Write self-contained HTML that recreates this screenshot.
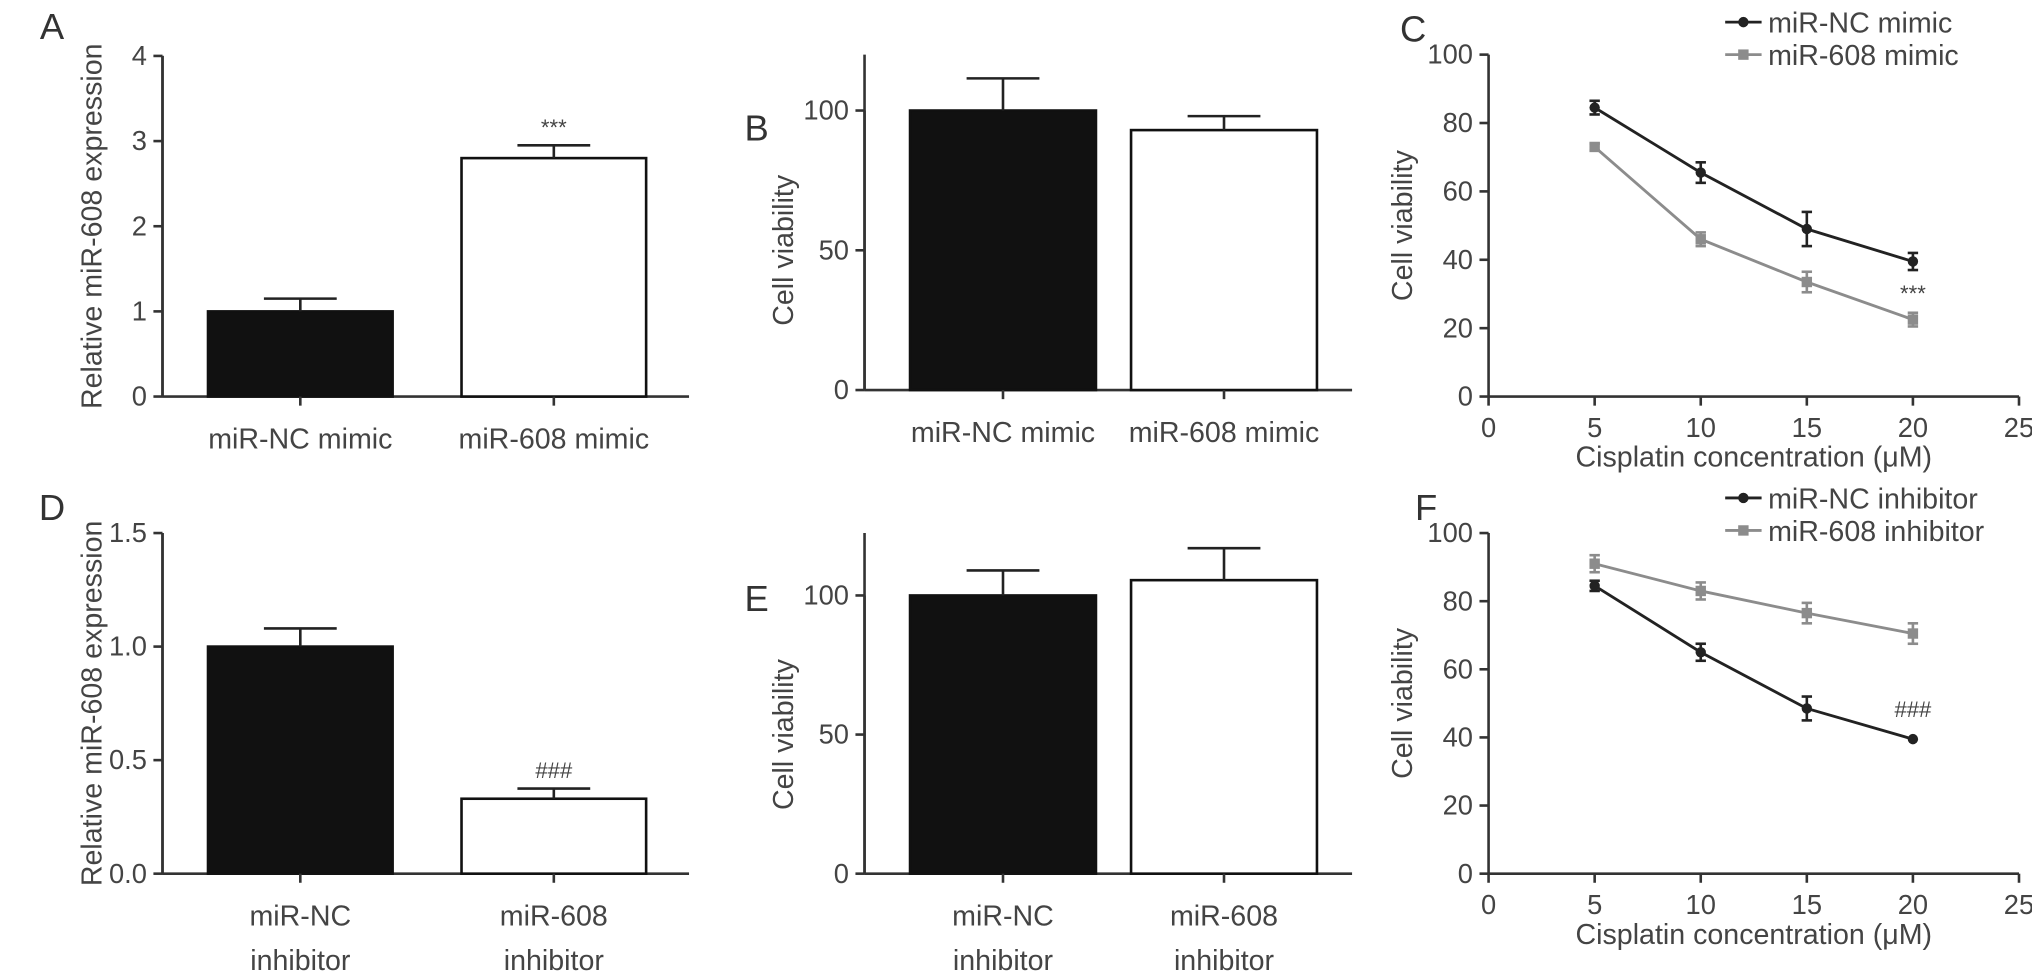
<!DOCTYPE html>
<html><head><meta charset="utf-8"><style>
html,body{margin:0;padding:0;background:#fff;}
svg{display:block;font-family:"Liberation Sans",sans-serif;}
</style></head><body>
<svg id="fig" width="2032" height="979" viewBox="0 0 1563 753" xmlns="http://www.w3.org/2000/svg"></svg>
<script>
// ---- data ----
const barCatsTop = ["miR-NC mimic","miR-608 mimic"];
const barCatsBot = [["miR-NC","inhibitor"],["miR-608","inhibitor"]];
const aVals = [1.0, 2.8], aErr = [0.15, 0.15];
const bVals = [100, 93], bErr = [11.5, 5];
const dVals = [1.0, 0.33], dErr = [0.08, 0.045];
const eVals = [100, 105.5], eErr = [9, 11.5];
const conc = [5, 10, 15, 20];
const cNC = [84.5, 65.5, 49, 39.5], cNCerr = [2, 3, 5, 2.5];
const c608 = [73, 46, 33.5, 22.5], c608err = [1, 2, 3, 2];
const fNC = [84.5, 65, 48.5, 39.5], fNCerr = [1.5, 2.5, 3.5, 0.5];
const f608 = [91, 83, 76.5, 70.5], f608err = [2.5, 2.5, 3, 3];
const ticksA = [0,1,2,3,4], ticksB = [0,50,100], ticksD = [0,0.5,1.0,1.5], ticksLine = [0,20,40,60,80,100], ticksX = [0,5,10,15,20,25];

const svg = document.getElementById('fig');
const NS = 'http://www.w3.org/2000/svg';
function el(tag, attrs, parent, text){
  const e = document.createElementNS(NS, tag);
  for (const k in attrs) e.setAttribute(k, attrs[k]);
  if (text !== undefined) e.textContent = text;
  (parent||svg).appendChild(e);
  return e;
}
const TXT = '#444', AX = '#333';
function label(x,y,t,size,anchor,rot){
  const e = el('text',{x:x,y:y,'font-size':size,fill:TXT,'text-anchor':anchor||'middle'},svg,t);
  if (rot) e.setAttribute('transform','rotate(-90 '+x+' '+y+')');
  return e;
}
function yAxis(x, y0, y1, vmin, vmax, ticks, fmt, title, titleX){
  const sy = v => y0 - (v - vmin) / (vmax - vmin) * (y0 - y1);
  const a = el('line',{x1:x,y1:y0,x2:x,y2:sy(ticks[ticks.length-1]),stroke:AX,'stroke-width':2});
  
  
  ticks.forEach(t=>{
    el('line',{x1:x-7,y1:sy(t),x2:x,y2:sy(t),stroke:AX,'stroke-width':2});
    const l = label(x-12, sy(t)+7, fmt(t), 21, 'end');
    
    
  });
  const tt = label(titleX, (y0+y1)/2, title, 22, 'middle', true);
  
  
  return sy;
}
function barPanel(opt){
  const sy = yAxis(opt.x, opt.y0, opt.y1, 0, opt.vmax, opt.ticks, opt.fmt, opt.title, opt.titleX);
  el('line',{x1:opt.x,y1:opt.y0,x2:opt.x,y2:opt.axisTop,stroke:AX,'stroke-width':2});
  const xa = el('line',{x1:opt.x,y1:opt.y0,x2:opt.xEnd,y2:opt.y0,stroke:AX,'stroke-width':2});
  
  
  opt.vals.forEach((v,i)=>{
    const bx = opt.barX[i], w = opt.barW;
    const r = el('rect',{x:bx,y:sy(v),width:w,height:opt.y0-sy(v),fill:i===0?'#111':'#fff',stroke:'#111','stroke-width':2});
    
    
    const cx = bx + w/2, top = sy(v+opt.err[i]);
    el('line',{x1:cx,y1:sy(v),x2:cx,y2:top,stroke:'#222','stroke-width':2});
    el('line',{x1:cx-28,y1:top,x2:cx+28,y2:top,stroke:'#222','stroke-width':2});
    el('line',{x1:cx,y1:opt.y0,x2:cx,y2:opt.y0+7,stroke:AX,'stroke-width':2});
    const cat = opt.cats[i];
    if (Array.isArray(cat)) {
      cat.forEach((c,j)=>{ const t=label(cx, opt.y0+40+j*34, c, 22);   });
    } else {
      const t=label(cx, opt.y0+40, cat, 22);  
    }
    if (i===1 && opt.sig){
      const s = label(cx, top-8, opt.sig, 17);
      
      
    }
  });
}
function linePanel(opt){
  const sx = v => 1145 + v/25*(1553-1145);
  const sy = yAxis(1145, opt.y0, opt.y1, 0, 100, ticksLine, t=>String(t), 'Cell viability', 1086);
  const xa = el('line',{x1:1145,y1:opt.y0,x2:1553,y2:opt.y0,stroke:AX,'stroke-width':2});
  
  
  ticksX.forEach(t=>{
    el('line',{x1:sx(t),y1:opt.y0,x2:sx(t),y2:opt.y0+7,stroke:AX,'stroke-width':2});
    const l = label(sx(t), opt.y0+31, String(t), 21);
    
    
  });
  const xt = label(1349, opt.y0+54, 'Cisplatin concentration (\u03bcM)', 22);
  
  
  opt.series.forEach((s,si)=>{
    const pts = conc.map((c,i)=>sx(c)+','+sy(s.vals[i])).join(' ');
    const pl = el('polyline',{points:pts,fill:'none',stroke:s.color,'stroke-width':2.2});
    
    
    conc.forEach((c,i)=>{
      const x = sx(c), y = sy(s.vals[i]), e = s.err[i];
      if (e>0.6){
        el('line',{x1:x,y1:sy(s.vals[i]+e),x2:x,y2:sy(s.vals[i]-e),stroke:s.color,'stroke-width':2});
        el('line',{x1:x-4,y1:sy(s.vals[i]+e),x2:x+4,y2:sy(s.vals[i]+e),stroke:s.color,'stroke-width':2});
        el('line',{x1:x-4,y1:sy(s.vals[i]-e),x2:x+4,y2:sy(s.vals[i]-e),stroke:s.color,'stroke-width':2});
      }
      let m;
      if (s.shape==='circle') m = el('circle',{cx:x,cy:y,r:4,fill:s.color});
      else m = el('rect',{x:x-4,y:y-4,width:8,height:8,fill:s.color});
      
      
    });
    const ly = opt.legY + si*25;
    el('line',{x1:1327,y1:ly,x2:1355,y2:ly,stroke:s.color,'stroke-width':2.2});
    if (s.shape==='circle') el('circle',{cx:1341,cy:ly,r:4,fill:s.color}); else el('rect',{x:1337,y:ly-4,width:8,height:8,fill:s.color});
    const lt = label(1360, ly+8, s.name, 22, 'start');
    
    
  });
  const sg = label(sx(20), sy(opt.sigVal), opt.sig, 17);
  
  
}
[['A',40,30],['B',582,108],['C',1087,32],['D',40,400],['E',582,470],['F',1097,400]].forEach(p=>{
  const t = el('text',{x:p[1],y:p[2],'font-size':28,fill:'#333','text-anchor':'middle'},svg,p[0]);
  
  
});
barPanel({x:125,y0:305,y1:43,vmax:4,axisTop:43,ticks:ticksA,fmt:t=>String(t),title:'Relative miR-608 expression',titleX:78,xEnd:530,vals:aVals,err:aErr,barX:[160,355],barW:142,cats:barCatsTop,sig:'***'});
barPanel({x:665,y0:300,y1:85,vmax:100,axisTop:42,ticks:ticksB,fmt:t=>String(t),title:'Cell viability',titleX:610,xEnd:1040,vals:bVals,err:bErr,barX:[700,870],barW:143,cats:barCatsTop});
linePanel({y0:305,y1:42,legY:17,sig:'***',sigVal:28,series:[
  {key:'nc-mimic',name:'miR-NC mimic',vals:cNC,err:cNCerr,color:'#222',shape:'circle'},
  {key:'mir608-mimic',name:'miR-608 mimic',vals:c608,err:c608err,color:'#8c8c8c',shape:'square'}]});
barPanel({x:125,y0:672,y1:410,vmax:1.5,axisTop:410,ticks:ticksD,fmt:t=>t.toFixed(1),title:'Relative miR-608 expression',titleX:78,xEnd:530,vals:dVals,err:dErr,barX:[160,355],barW:142,cats:barCatsBot,sig:'###'});
barPanel({x:665,y0:672,y1:458,vmax:100,axisTop:410,ticks:ticksB,fmt:t=>String(t),title:'Cell viability',titleX:610,xEnd:1040,vals:eVals,err:eErr,barX:[700,870],barW:143,cats:barCatsBot});
linePanel({y0:672,y1:410,legY:383,sig:'###',sigVal:46,series:[
  {key:'nc-inhibitor',name:'miR-NC inhibitor',vals:fNC,err:fNCerr,color:'#222',shape:'circle'},
  {key:'mir608-inhibitor',name:'miR-608 inhibitor',vals:f608,err:f608err,color:'#8c8c8c',shape:'square'}]});
</script>
</body></html>
